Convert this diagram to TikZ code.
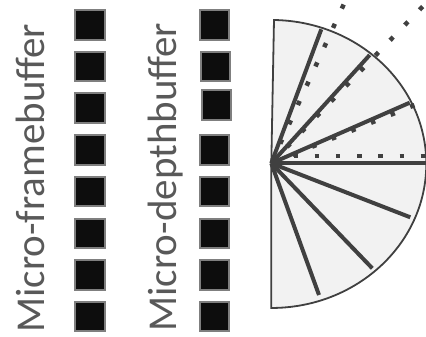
\documentclass[tikz,border=0pt]{standalone}
\usepackage{fontspec}
\setmainfont{Carlito}
\usepackage{xcolor}
\usetikzlibrary{calc}

\definecolor{fandark}{HTML}{404040}
\definecolor{fanfill}{HTML}{F2F2F2}
\definecolor{labelgray}{HTML}{595959}
\definecolor{cellgray}{HTML}{7F7F7F}
\definecolor{cellblack}{HTML}{0D0D0D}

\begin{document}
\begin{tikzpicture}[x=1pt,y=-1pt,
  cell/.style={draw=cellgray,fill=cellblack,line width=2pt,minimum size=29.5pt,inner sep=0pt},
  bufflabel/.style={rotate=90,anchor=base west,inner sep=0pt,text=labelgray,font=\fontsize{41}{41}\selectfont},
  spoke/.style={line width=4pt,draw=fandark},
  dotray/.style={line width=4.5pt,draw=fandark,dash pattern=on 4.5pt off 16.7pt}]
\useasboundingbox (0,0) rectangle (426,337);

% labels
\node[bufflabel] (fblabel) at (44,332.7) {Micro-framebuffer};
\node[bufflabel] (dblabel) at (176.7,331.7) {Micro-depthbuffer};

% buffer cells
\foreach \i in {1,...,8}
  \node[cell] (fb\i) at (90,{24.8+41.7*(\i-1)}) {};
\foreach \i/\dx/\dy in {1/0/0,2/1/0,3/2/-3.2,4/0/0,5/0/0,6/0/0,7/0/0,8/0/0}
  \node[cell] (db\i) at ({214.6+\dx},{24.8+41.7*(\i-1)+\dy}) {};

% fan
\coordinate (hub) at (271.3,163.3);
\filldraw[fill=fanfill,draw=fandark,line width=1.8pt] (hub) -- (274,20)
  arc[start angle=-89,end angle=90,x radius=155,y radius=144] -- cycle;
\foreach \p in {(321.3,29.3),(369.7,55),(409.7,102.7),(426,163.3),(410.3,217.3),(372.3,268.3),(319,295)}
  \draw[spoke] (hub) -- \p;

% dotted rays
\foreach \ang/\from/\to in {65.5/21.6/175,46/22.6/218.7,22.1/22.8/154.5}
  \draw[dotray] ($(hub)+(-\ang:\from)$) -- ($(hub)+(-\ang:\to)$);
\draw[dotray] (293.5,156) -- (426,156);
\end{tikzpicture}
\end{document}
